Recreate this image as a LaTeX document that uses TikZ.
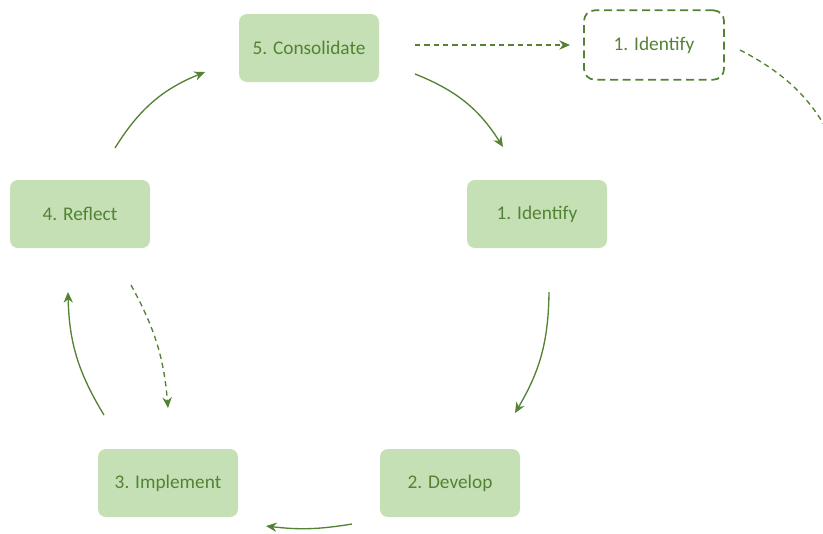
\documentclass[tikz,border=0pt]{standalone}
\usepackage{fontspec}
\setmainfont{Carlito}
\usetikzlibrary{arrows.meta,positioning}
\definecolor{leaf}{HTML}{C5E0B4}
\definecolor{moss}{HTML}{548235}
\tikzset{
  stage/.style={rounded corners=6pt, fill=leaf, text=moss, minimum width=105pt,
    minimum height=51pt, font=\fontsize{14.5}{17}\selectfont},
  ghost/.style={stage, fill=none, draw=moss, rounded corners=8pt, dashed, dash pattern=on 6pt off 3.5pt, line width=1.3pt, minimum height=52pt},
  flow/.style={draw=moss, line width=1pt, -{Stealth[length=8pt,width=7pt]}},
  hint/.style={flow, dashed, dash pattern=on 4pt off 3pt}
}
\begin{document}
\begin{tikzpicture}[x=0.75pt,y=-0.75pt]
    \useasboundingbox (0,0) rectangle (823,533);
    \clip (0,0) rectangle (823,533);
    \node[stage] (cons) at (309,48) {5. Consolidate};
    \node[ghost] (next) at (654,45) {1. Identify};
    \node[stage] (refl) at (80,214) {4. Reflect};
    \node[stage] (iden) at (537,214) {1. Identify};
    \node[stage] (impl) at (168,483) {3. Implement};
    \node[stage] (deve) at (450,483) {2. Develop};

    % arrow ends
    \coordinate (c1) at (415,74);  \coordinate (i1) at (503,147);
    \coordinate (i2) at (549,292); \coordinate (d1) at (515,413);
    \coordinate (d2) at (352,524); \coordinate (m1) at (266,526);
    \coordinate (m2) at (104,415); \coordinate (r1) at (68,292);
    \coordinate (r2) at (131,285); \coordinate (m3) at (168,408);
    \coordinate (r3) at (115,148); \coordinate (c2) at (205,72);
    \coordinate (c3) at (415,45);  \coordinate (n1) at (570,45);
    \coordinate (n2) at (740,50);  \coordinate (out) at (845,172);

    \draw[flow] (c1) to[bend left=18] (i1);
    \draw[flow] (i2) to[bend left=15] (d1);
    \draw[flow] (d2) to[bend left=8] (m1);
    \draw[flow] (m2) to[bend left=15] (r1);
    \draw[hint] (r2) to[bend left=12] (m3);
    \draw[flow] (r3) to[bend left=18] (c2);
    \draw[hint] (c3) -- (n1);
    \draw[hint, -] (n2) to[bend left=22] (out);
\end{tikzpicture}
\end{document}
